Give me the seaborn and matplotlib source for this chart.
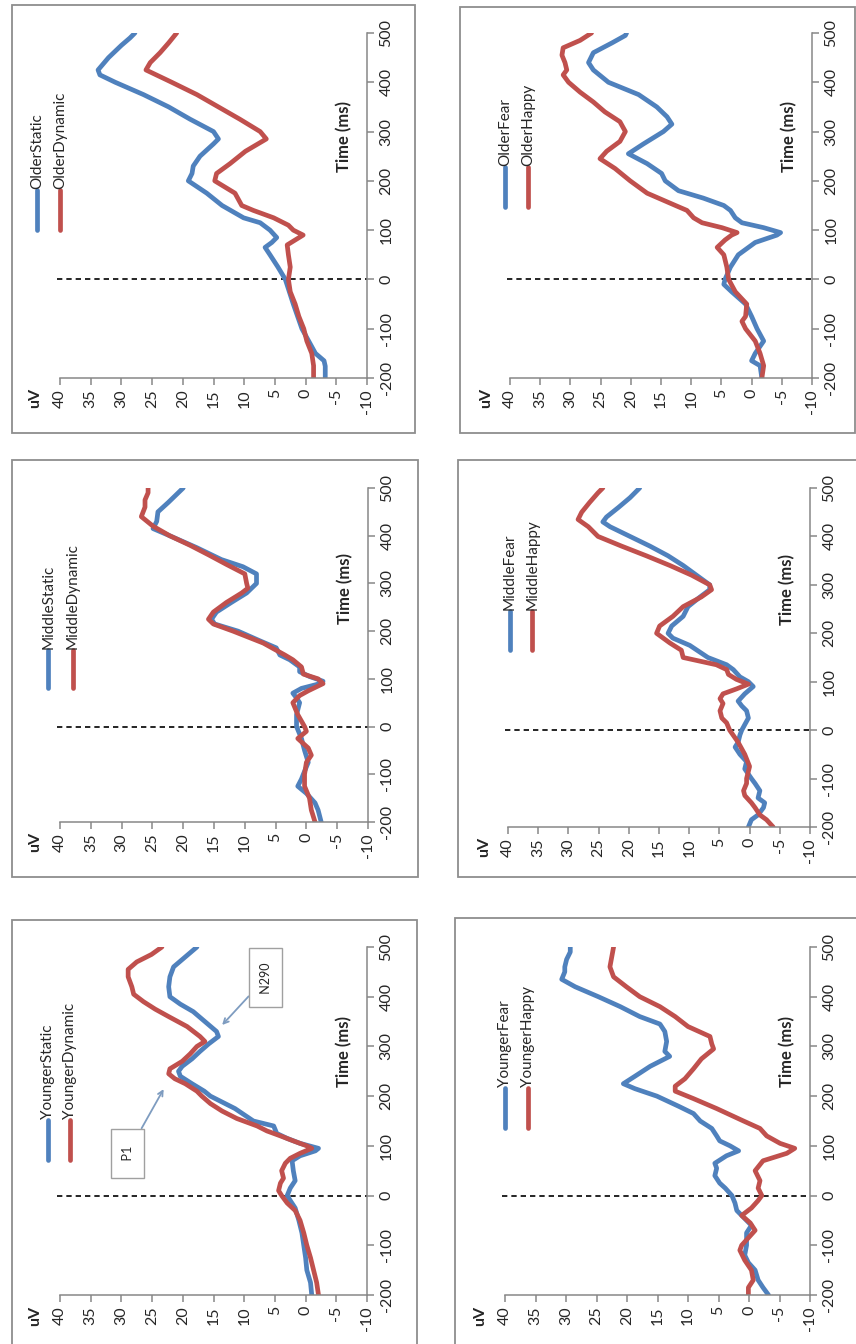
import matplotlib
matplotlib.use("Agg")
import matplotlib.pyplot as plt
from matplotlib.patches import Rectangle
import seaborn as sns
import pandas as pd

# ---------------- data (time in ms, amplitude in uV) ----------------
older_static_t = [-200, -176, -165, -150, -100, -50, 0, 25, 50, 65, 75, 85, 100, 115, 125, 150, 175, 200, 215, 230,
                  250, 275, 285, 300, 325, 350, 375, 400, 415, 425, 450, 475, 490, 500]
older_static_uv = [-3.2, -3.2, -3.0, -1.6, 0.6, 2.0, 3.3, 4.5, 5.8, 6.6, 5.5, 4.7, 5.8, 7.4, 10.1, 13.6, 16.1, 19.1,
                   18.5, 18.3, 17.2, 15.0, 14.2, 15.0, 18.8, 22.3, 26.4, 31.0, 33.5, 33.8, 32.1, 30.0, 28.6, 27.8]
older_dynamic_t = [-200, -175, -150, -125, -100, -75, -50, -25, 0, 25, 50, 70, 80, 90, 100, 110, 125, 140, 150, 175,
                   200, 215, 235, 260, 285, 300, 325, 350, 375, 400, 425, 440, 460, 480, 500]
older_dynamic_uv = [-1.3, -1.3, -1.0, -0.2, 0.3, 1.1, 1.7, 2.5, 2.8, 2.5, 2.8, 3.0, 1.7, 0.4, 2.0, 2.8, 5.2, 8.5, 10.4,
                    11.5, 14.8, 14.5, 12.3, 9.8, 6.4, 7.4, 10.7, 14.2, 17.7, 21.8, 26.0, 25.3, 23.7, 22.3, 21.0]

older_fear_t = [-200, -175, -165, -150, -125, -100, -75, -50, -25, -10, 0, 25, 50, 75, 90, 95, 105, 115, 125, 140, 150,
                165, 180, 200, 215, 235, 255, 275, 300, 315, 330, 350, 375, 400, 425, 440, 460, 480, 495, 500]
older_fear_uv = [-1.7, -1.4, 0.0, -0.6, -2.0, -0.9, 0.0, 1.0, 3.3, 4.6, 4.4, 3.5, 2.2, -0.6, -4.2, -4.8, -2.0, 1.6, 2.7,
                 3.5, 4.6, 8.0, 12.1, 14.3, 14.9, 17.3, 20.4, 17.9, 14.6, 13.2, 14.0, 15.7, 18.7, 23.7, 26.2, 27.0, 26.2,
                 23.1, 20.9, 20.7]
older_happy_t = [-200, -175, -150, -125, -100, -85, -75, -50, -25, 0, 25, 50, 65, 80, 90, 95, 105, 115, 125, 140, 150,
                 175, 200, 225, 245, 260, 280, 300, 320, 340, 360, 380, 400, 415, 425, 440, 455, 470, 485, 500]
older_happy_uv = [-1.7, -2.0, -1.4, -0.6, 1.0, 1.6, 1.0, 0.8, 2.7, 3.8, 4.1, 4.6, 5.7, 4.4, 3.3, 2.4, 4.9, 8.2, 9.6,
                  10.7, 12.6, 17.3, 20.1, 22.6, 25.1, 24.0, 21.8, 20.9, 21.8, 24.3, 26.2, 28.4, 30.3, 31.2, 30.6, 30.9,
                  31.4, 31.2, 28.4, 26.5]

middle_static_t = [-200, -175, -160, -140, -125, -110, -100, -75, -50, -25, 0, 25, 50, 60, 70, 80, 90, 95, 105, 115, 125,
                   140, 150, 165, 180, 200, 215, 225, 240, 260, 280, 300, 320, 335, 350, 375, 400, 415, 430, 450, 470,
                   490, 500]
middle_static_uv = [-2.4, -1.9, -1.4, 0.0, 1.4, 0.8, 0.5, -0.3, 0.3, 0.8, 1.6, 1.6, 1.1, 1.6, 2.2, 0.8, -2.2, -2.7, -0.5,
                    1.1, 1.1, 2.7, 4.3, 4.9, 7.6, 11.1, 14.9, 15.4, 14.6, 12.2, 9.7, 8.1, 8.1, 10.3, 13.8, 17.8, 22.2,
                    24.9, 24.3, 24.1, 22.4, 20.8, 20.0]
middle_dynamic_t = [-200, -175, -150, -125, -100, -75, -60, -45, -25, -10, 0, 25, 50, 65, 75, 90, 100, 110, 125, 140,
                    150, 175, 200, 215, 225, 240, 260, 280, 290, 300, 320, 340, 360, 380, 400, 420, 440, 460, 475, 490,
                    500]
middle_dynamic_uv = [-1.4, -0.8, -0.5, 0.3, 0.3, 0.0, -0.8, -0.3, 1.4, 0.0, 0.3, 1.4, 2.2, 1.1, -0.3, -2.7, -1.9, 0.5,
                     0.8, 2.2, 3.5, 7.0, 11.9, 15.1, 15.9, 15.1, 13.0, 10.5, 9.5, 9.7, 10.0, 13.0, 15.9, 18.9, 22.2,
                     24.9, 26.8, 26.2, 26.2, 25.7, 25.7]

middle_fear_t = [-200, -185, -175, -160, -150, -140, -125, -110, -100, -80, -65, -50, -35, -25, -10, 0, 25, 40, 50, 60,
                 75, 90, 100, 110, 125, 135, 150, 175, 190, 200, 215, 235, 255, 275, 290, 300, 320, 340, 360, 380, 400,
                 420, 430, 440, 460, 480, 500]
middle_fear_uv = [0.2, -0.3, -1.4, -2.3, -2.5, -1.4, -1.7, -0.9, -0.3, 0.8, 0.5, 1.6, 2.4, 1.9, 1.6, 1.3, 0.2, 0.5, 1.3,
                  1.9, 0.8, -0.6, 0.2, 1.6, 2.7, 3.8, 6.9, 9.9, 12.7, 13.5, 12.9, 11.0, 10.2, 8.2, 6.6, 6.6, 8.8, 11.0,
                  13.5, 16.5, 19.8, 23.1, 24.3, 23.7, 21.7, 19.8, 18.2]
middle_happy_t = [-200, -185, -175, -160, -150, -135, -125, -110, -100, -75, -50, -25, 0, 15, 25, 40, 55, 65, 75, 85,
                  95, 105, 115, 125, 135, 150, 165, 180, 200, 215, 235, 255, 275, 290, 300, 320, 340, 360, 380, 400,
                  420, 435, 450, 470, 490, 500]
middle_happy_uv = [-3.9, -2.8, -1.7, -0.9, -0.3, 0.8, 1.0, 0.5, 0.5, 0.0, 0.8, 1.9, 3.3, 3.8, 4.6, 4.9, 4.4, 4.9, 4.4,
                   2.2, 0.2, 2.2, 3.5, 3.8, 5.5, 11.0, 11.3, 13.2, 15.4, 14.9, 12.7, 11.0, 8.0, 6.3, 6.6, 9.6, 13.2,
                   17.1, 21.2, 25.1, 26.7, 28.4, 27.8, 26.5, 25.1, 24.3]

younger_static_t = [-200, -175, -150, -125, -100, -75, -50, -25, -10, 0, 15, 30, 50, 70, 80, 90, 95, 105, 115, 125,
                    140, 150, 175, 200, 210, 225, 240, 250, 260, 275, 290, 305, 320, 330, 350, 370, 385, 400, 420, 440,
                    460, 480, 500]
younger_static_uv = [-1.0, -0.8, -0.2, 0.0, 0.3, 0.6, 1.1, 1.7, 2.5, 3.0, 2.5, 1.7, 2.0, 2.2, 0.9, -1.6, -2.1, 0.9, 3.0,
                     4.7, 5.2, 8.5, 11.5, 15.5, 16.5, 18.5, 20.4, 20.7, 20.1, 18.5, 17.2, 15.8, 14.2, 14.5, 16.4, 18.3,
                     20.4, 22.1, 22.3, 22.1, 21.5, 19.6, 17.7]
younger_dynamic_t = [-200, -175, -150, -125, -100, -75, -50, -30, -15, 0, 10, 25, 35, 50, 65, 75, 85, 95, 100, 110,
                     120, 130, 140, 155, 170, 185, 200, 210, 225, 235, 245, 255, 270, 285, 300, 310, 320, 340, 360, 375,
                     390, 405, 420, 440, 455, 470, 485, 500]
younger_dynamic_uv = [-2.1, -1.8, -1.3, -0.8, -0.2, 0.3, 0.9, 1.7, 3.0, 3.9, 4.4, 4.1, 3.6, 3.9, 3.3, 2.5, 0.9, -1.0,
                      -0.2, 2.0, 4.1, 6.3, 7.9, 11.2, 13.6, 15.5, 16.9, 17.7, 19.6, 21.3, 22.3, 22.1, 20.1, 18.8, 17.7,
                      16.4, 17.2, 19.3, 22.3, 24.5, 26.4, 28.0, 28.3, 28.9, 28.9, 27.5, 25.1, 23.4]

younger_fear_t = [-200, -185, -170, -150, -135, -120, -100, -75, -60, -50, -30, -15, 0, 15, 25, 40, 55, 65, 80, 90, 100,
                  110, 120, 135, 150, 165, 180, 200, 215, 225, 240, 260, 280, 290, 310, 330, 345, 360, 380, 400, 420,
                  435, 450, 460, 475, 490, 500]
younger_fear_uv = [-3.2, -2.3, -1.5, -1.0, 0.1, 0.7, 0.4, 0.4, -0.4, 0.4, 2.0, 2.3, 2.8, 3.9, 4.8, 5.6, 5.3, 5.6, 3.7,
                   1.7, 3.1, 4.8, 5.3, 6.1, 8.0, 9.1, 11.6, 15.1, 18.7, 20.6, 18.7, 16.2, 13.0, 13.8, 13.5, 13.8, 14.6,
                   17.9, 21.1, 24.7, 28.5, 30.7, 30.2, 30.2, 29.9, 29.3, 29.3]
younger_happy_t = [-200, -185, -170, -150, -130, -110, -100, -85, -70, -55, -40, -25, -10, 0, 15, 30, 50, 70, 85, 95,
                   105, 120, 135, 150, 175, 195, 210, 220, 235, 255, 275, 295, 305, 320, 340, 360, 380, 400, 420, 440,
                   460, 480, 500]
younger_happy_uv = [0.1, 0.1, -0.7, -0.4, 0.7, 1.5, 1.2, 0.1, -1.0, -0.2, 1.2, -0.4, -1.5, -2.1, -1.5, -1.8, -1.0, -2.3,
                    -6.2, -7.5, -5.1, -2.9, -1.8, 0.9, 5.3, 9.1, 12.1, 12.1, 10.5, 9.1, 7.8, 5.8, 6.1, 6.4, 10.0, 12.1,
                    14.6, 17.9, 20.1, 22.2, 22.8, 22.5, 22.2]

uv_ticks = [40, 35, 30, 25, 20, 15, 10, 5, 0, -5, -10]
time_ticks = [-200, -100, 0, 100, 200, 300, 400, 500]

BLUE = "#4F81BD"
RED = "#C0504D"
AXIS_GREY = "#878787"
FRAME_GREY = "#8E8E8E"
TEXT = "#262626"

sns.set_theme(style="white")
plt.rcParams["font.family"] = ["Lato", "DejaVu Sans"]
plt.rcParams["axes.unicode_minus"] = False

W, H = 856, 1344
fig = plt.figure(figsize=(W / 100, H / 100), dpi=100)
fig.patch.set_facecolor("white")


def px_rect(x0, y0, x1, y1):
    """Pixel box (top-left origin) -> figure-fraction rect."""
    return [x0 / W, 1 - y1 / H, (x1 - x0) / W, (y1 - y0) / H]


# each panel: axes box, frame box, series (label, t, uv, colour), legend positions
panels = [
    dict(ax=(60, 33, 367, 378), frame=(12, 5, 415, 433),
         series=[("OlderStatic", older_static_t, older_static_uv, BLUE),
                 ("OlderDynamic", older_dynamic_t, older_dynamic_uv, RED)],
         leg_x=(-0.075, 0.0), leg_y=0.43),
    dict(ax=(510, 33, 812, 378), frame=(460, 7, 855, 433),
         series=[("OlderFear", older_fear_t, older_fear_uv, BLUE),
                 ("OlderHappy", older_happy_t, older_happy_uv, RED)],
         leg_x=(-0.016, 0.06), leg_y=0.497),
    dict(ax=(60, 488, 368, 822), frame=(12, 460, 418, 877),
         series=[("MiddleStatic", middle_static_t, middle_static_uv, BLUE),
                 ("MiddleDynamic", middle_dynamic_t, middle_dynamic_uv, RED)],
         leg_x=(-0.038, 0.042), leg_y=0.40),
    dict(ax=(508, 488, 810, 827), frame=(458, 460, 857, 877),
         series=[("MiddleFear", middle_fear_t, middle_fear_uv, BLUE),
                 ("MiddleHappy", middle_happy_t, middle_happy_uv, RED)],
         leg_x=(0.006, 0.08), leg_y=0.522),
    dict(ax=(60, 947, 367, 1295), frame=(12, 920, 417, 1350),
         series=[("YoungerStatic", younger_static_t, younger_static_uv, BLUE),
                 ("YoungerDynamic", younger_dynamic_t, younger_dynamic_uv, RED)],
         leg_x=(-0.038, 0.032), leg_y=0.387),
    dict(ax=(505, 947, 810, 1295), frame=(455, 918, 857, 1350),
         series=[("YoungerFear", younger_fear_t, younger_fear_uv, BLUE),
                 ("YoungerHappy", younger_happy_t, younger_happy_uv, RED)],
         leg_x=(0.0, 0.076), leg_y=0.48),
]

axes = []
for p in panels:
    fx0, fy0, fx1, fy1 = p["frame"]
    fig.add_artist(Rectangle((fx0 / W, 1 - fy1 / H), (fx1 - fx0) / W, (fy1 - fy0) / H,
                             transform=fig.transFigure, fill=False, ec=FRAME_GREY, lw=1.3))

    ax = fig.add_axes(px_rect(*p["ax"]))
    axes.append(ax)
    ax.set_facecolor("none")

    # waveforms: amplitude runs horizontally, time runs vertically
    for label, t, uv, col in p["series"]:
        df = pd.DataFrame({"time": t, "uv": uv})
        sns.lineplot(data=df, x="uv", y="time", orient="y", sort=True, estimator=None,
                     color=col, lw=3.4, ax=ax, solid_capstyle="round", solid_joinstyle="round")

    # stimulus onset
    ax.axhline(0, xmin=-0.01, xmax=1.0, color="black", lw=1.2, ls=(0, (3.2, 2.4)), clip_on=False, zorder=1)

    ax.set_xlim(40, -10)
    ax.set_ylim(-200, 500)
    ax.set_xticks(uv_ticks)
    ax.set_yticks(time_ticks)
    ax.set_xlabel("")
    ax.set_ylabel("")
    ax.yaxis.tick_right()
    for side in ("top", "left"):
        ax.spines[side].set_visible(False)
    for side in ("bottom", "right"):
        ax.spines[side].set_color(AXIS_GREY)
        ax.spines[side].set_linewidth(1.1)
    ax.tick_params(axis="x", direction="out", length=5, width=1.1, color=AXIS_GREY,
                   labelrotation=90, labelsize=11.5, labelcolor=TEXT, pad=3, bottom=True)
    ax.tick_params(axis="y", direction="out", length=5, width=1.1, color=AXIS_GREY,
                   labelrotation=90, labelsize=11.5, labelcolor=TEXT, pad=4, right=True, left=False)
    for lab in ax.get_yticklabels():
        lab.set_verticalalignment("center")
    ax.grid(False)

    # axis titles
    ax.text(-0.08, -0.03, "uV", transform=ax.transAxes, rotation=90, fontsize=11.5,
            fontweight="bold", color=TEXT, ha="center", va="top")
    ax.text(0.925, 0.70, "Time (ms)", transform=ax.transAxes, rotation=90, fontsize=12,
            fontweight="bold", color=TEXT, ha="center", va="center")

    # legend, laid out along the rotated page
    ly = p["leg_y"]
    for (label, _, _, col), lx in zip(p["series"], p["leg_x"]):
        ax.plot([lx, lx], [ly, ly + 0.115], transform=ax.transAxes, color=col, lw=3.4,
                solid_capstyle="round", clip_on=False)
        ax.text(lx, ly + 0.118, label, transform=ax.transAxes, rotation=90, fontsize=11,
                color=TEXT, ha="center", va="bottom")

# peak call-outs on the younger static/dynamic panel
ax_y = axes[4]
box = dict(boxstyle="square,pad=0.85", fc="white", ec="#A0A0A0", lw=1.0)
arrow = dict(arrowstyle="->", color="#7E9CC0", lw=1.3, shrinkA=0, shrinkB=2)
ax_y.annotate("  P1  ", xy=(22.9, 219), xytext=(29.0, 85), rotation=90, fontsize=9, color=TEXT,
              ha="center", va="center", bbox=box, arrowprops=arrow)
ax_y.annotate(" N290 ", xy=(13.9, 339), xytext=(6.5, 438), rotation=90, fontsize=9, color=TEXT,
              ha="center", va="center", bbox=box, arrowprops=arrow)

fig.savefig("out.png", dpi=100, facecolor="white")
